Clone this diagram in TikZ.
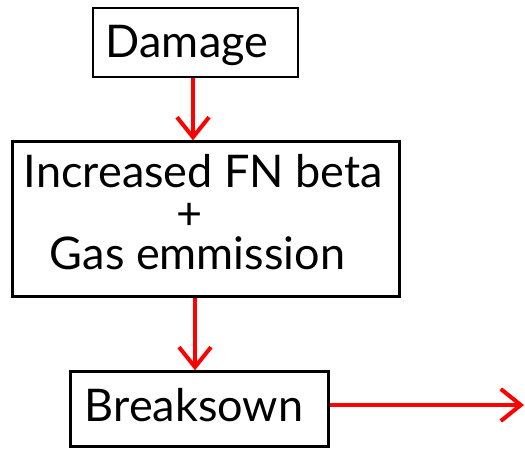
\documentclass[tikz,border=0pt]{standalone}
\usepackage{fontspec}
\setmainfont{Lato}
\usetikzlibrary{arrows.meta}
\begin{document}
\begin{tikzpicture}[x=1pt,y=1pt,
  box/.style={draw=black, line width=2.8pt, inner sep=0pt},
  lbl/.style={anchor=base, inner sep=0pt, font=\fontsize{45}{40}\selectfont},
  arr/.style={draw=red, line width=4pt, -{Straight Barb[length=20pt,width=32pt,line width=4pt]}}]
\useasboundingbox (0,0) rectangle (525,-448);
\node[box, minimum width=205, minimum height=69] (d) at (195.4,-42.5) {};
\node[box, minimum width=387, minimum height=155] (b) at (206.3,-219.3) {};
\node[box, minimum width=258, minimum height=75] (k) at (199.8,-409.2) {};
\node[lbl] (dt) at (187,-57) {Damage};
\node[lbl] (bt1) at (203.5,-187) {Increased FN beta};
\node[lbl] (bt2) at (189.5,-229) {+};
\node[lbl] (bt3) at (197.5,-269.5) {Gas emmission};
\node[lbl] (kt) at (194,-421.7) {Breaksown};
\coordinate (a1) at (193,0);
\coordinate (a2) at (195,0);
\coordinate (e) at (524,-405);
\draw[arr] (d.south -| a1) -- (b.north -| a1);
\draw[arr] (b.south -| a2) -- (k.north -| a2);
\draw[arr] (k.east |- e) -- (e);
\end{tikzpicture}
\end{document}
